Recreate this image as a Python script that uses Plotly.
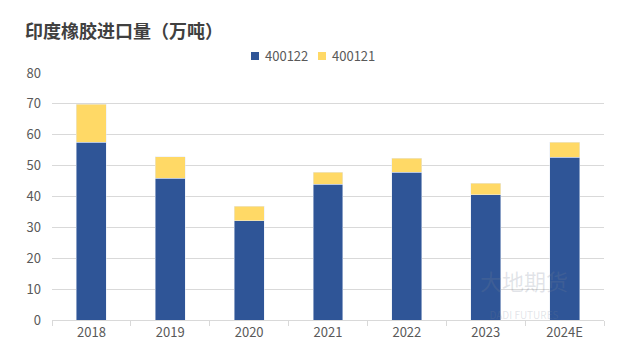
import plotly.graph_objects as go

categories = ["2018", "2019", "2020", "2021", "2022", "2023", "2024E"]
s400122 = [57.5, 45.9, 32.1, 44.0, 47.9, 40.5, 52.7]
s400121 = [12.3, 7.0, 4.8, 3.9, 4.5, 3.8, 4.9]
yticks = [0, 10, 20, 30, 40, 50, 60, 70, 80]
series_names = ["400122", "400121"]
blue, yellow = "#2F5597", "#FFD966"

fig = go.Figure()
fig.add_trace(go.Bar(name=series_names[0], x=categories, y=s400122, marker_color=blue))
fig.add_trace(go.Bar(name=series_names[1], x=categories, y=s400121, marker_color=yellow))

fig.update_layout(
    barmode="stack",
    bargap=0.62,
    width=626, height=354,
    margin=dict(l=52, r=22, t=73, b=34),
    paper_bgcolor="white", plot_bgcolor="white",
    font=dict(family="Noto Sans CJK SC, Noto Sans, sans-serif", color="#595959", size=13),
    title=dict(text="<b>印度橡胶进口量（万吨）</b>", x=0.04, xanchor="left", y=0.91, yanchor="middle",
               font=dict(size=18, color="#404040")),
    showlegend=False,
)
fig.update_xaxes(showline=True, linecolor="#d9d9d9", linewidth=1, ticks="outside", tickson="boundaries",
                 ticklen=5, tickcolor="#d9d9d9", showgrid=False)
fig.update_yaxes(range=[0, 80], tickvals=yticks, showgrid=True, gridcolor="#d9d9d9", gridwidth=1,
                 zeroline=False, showline=False, ticks="", ticklabelstandoff=10)

# compact legend (small square markers close to text)
legend_items = [(series_names[0], blue, 0.3605), (series_names[1], yellow, 0.4819)]
for nm, c, lx in legend_items:
    fig.add_shape(type="rect", xref="paper", yref="paper", x0=lx, x1=lx + 0.0145,
                  y0=1.0526, y1=1.085, fillcolor=c, line_width=0)
    fig.add_annotation(text=nm, xref="paper", yref="paper", x=lx + 0.021, y=1.069,
                       xanchor="left", yanchor="middle", showarrow=False,
                       font=dict(size=13, color="#595959"))

fig.add_annotation(text="大地期货<br><span style='font-size:10px'>DADI FUTURES</span>", xref="paper", yref="paper",
                   x=0.855, y=0.11, xanchor="center", yanchor="middle", showarrow=False,
                   font=dict(size=22, color="rgba(120,130,150,0.22)"))

fig.write_html("out.html")
